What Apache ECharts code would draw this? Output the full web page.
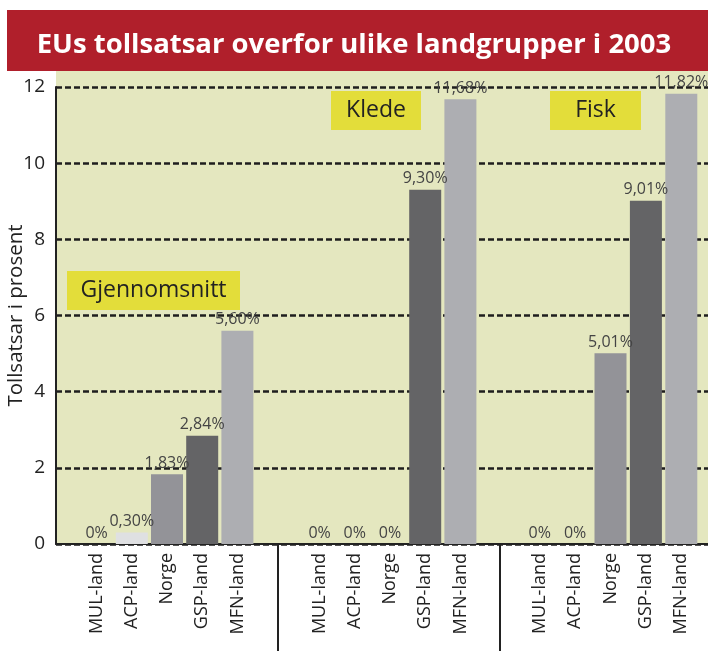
<!DOCTYPE html>
<html>
<head>
<meta charset="utf-8">
<script src="https://cdn.jsdelivr.net/npm/echarts@6/dist/echarts.min.js"></script>
<style>
  html, body { margin: 0; padding: 0; background: #fff; }
  #chart { width: 708px; height: 651px; }
</style>
</head>
<body>
<div id="chart"></div>
<script>
const categories = ['MUL-land', 'ACP-land', 'Norge', 'GSP-land', 'MFN-land']
const groupNames = ['Gjennomsnitt', 'Klede', 'Fisk']
const snittValues = [0, 0.30, 1.83, 2.84, 5.60]
const kledeValues = [0, 0, 0, 9.30, 11.68]
const fiskValues = [0, 0, 5.01, 9.01, 11.82]
const yTicks = [0, 2, 4, 6, 8, 10, 12]
const barColors = ['#c9cacc', '#dfe0e2', '#939398', '#646466', '#adaeb2']

const font = 'Open Sans'
const bgColor = '#e4e7bf'
const boxColor = '#e3dd3a'

const myChart = echarts.init(document.getElementById('chart'))

const fmt = (v) => v === 0 ? '0%' : v.toFixed(2).replace('.', ',') + '%'

// three groups, each its own grid
const groupGrids = [
  { left: 79, right: 453 },
  { left: 302, right: 230 },
  { left: 522, right: 9 }
]
const groupData = [snittValues, kledeValues, fiskValues]

const grids = [{ left: 56, right: 0, top: 87, bottom: 107, outerBoundsMode: 'none' }]
const xAxes = [{
  gridIndex: 0, type: 'category', data: [''],
  axisLine: { show: true, lineStyle: { color: '#222', width: 2 } },
  axisTick: { show: false }, axisLabel: { show: false }
}]
const yAxes = [{
  gridIndex: 0, type: 'value', min: 0, max: 12, interval: 2,
  name: 'Tollsatsar i prosent', nameLocation: 'middle', nameGap: 29,
  nameMoveOverlap: false,
  nameTextStyle: { fontFamily: font, fontSize: 20.5, color: '#222' },
  axisLine: { show: true, lineStyle: { color: '#222', width: 2 } },
  axisTick: { show: false },
  axisLabel: {
    fontFamily: font, fontSize: 19, color: '#222', margin: 11,
    formatter: (v) => yTicks.includes(v) ? String(v) : ''
  },
  splitLine: { show: true, lineStyle: { color: '#1e1e1e', width: 2.5, type: [6, 3] } }
}]
const series = []

groupGrids.forEach((g, i) => {
  grids.push({ left: g.left, right: g.right, top: 87, bottom: 107, outerBoundsMode: 'none' })
  xAxes.push({
    gridIndex: i + 1, type: 'category', data: categories,
    axisLine: { show: false }, axisTick: { show: false },
    axisLabel: {
      rotate: 90, fontFamily: font, fontSize: 18, color: '#222', margin: 9,
      interval: 0
    }
  })
  yAxes.push({ gridIndex: i + 1, type: 'value', min: 0, max: 12, show: false })
  series.push({
    name: groupNames[i],
    type: 'bar',
    xAxisIndex: i + 1,
    yAxisIndex: i + 1,
    barWidth: 32,
    z: 3,
    data: groupData[i].map((v, k) => ({ value: v, itemStyle: { color: barColors[k] } })),
    label: {
      show: true, position: 'top', distance: 3,
      fontFamily: font, fontSize: 16, color: '#444',
      formatter: (p) => fmt(p.value)
    }
  })
})

const box = (x, y, w, h, text) => ({
  type: 'group', left: x, top: y, z: 10,
  children: [
    { type: 'rect', shape: { x: 0, y: 0, width: w, height: h }, style: { fill: boxColor } },
    {
      type: 'text', x: w / 2, y: h / 2,
      style: {
        text: text, fill: '#222', font: '23px "' + font + '"',
        align: 'center', verticalAlign: 'middle'
      }
    }
  ]
})

const option = {
  animation: false,
  title: {
    text: 'EUs tollsatsar overfor ulike landgrupper i 2003',
    left: 'center', top: 26,
    textStyle: { color: '#fff', fontFamily: font, fontWeight: 'bold', fontSize: 27.5 }
  },
  graphic: [
    { type: 'rect', z: -10, shape: { x: 7, y: 10, width: 701, height: 61 }, style: { fill: '#b01f2b' } },
    { type: 'rect', z: -10, shape: { x: 56, y: 71, width: 652, height: 473 }, style: { fill: bgColor } },
    { type: 'line', z: 10, shape: { x1: 278, y1: 544, x2: 278, y2: 651 }, style: { stroke: '#222', lineWidth: 2 } },
    { type: 'line', z: 10, shape: { x1: 500, y1: 544, x2: 500, y2: 651 }, style: { stroke: '#222', lineWidth: 2 } },
    box(67, 271, 173, 39, groupNames[0]),
    box(331, 91, 90, 39, groupNames[1]),
    box(550, 91, 91, 39, groupNames[2])
  ],
  grid: grids,
  xAxis: xAxes,
  yAxis: yAxes,
  series: series
}

myChart.setOption(option)
</script>
</body>
</html>
